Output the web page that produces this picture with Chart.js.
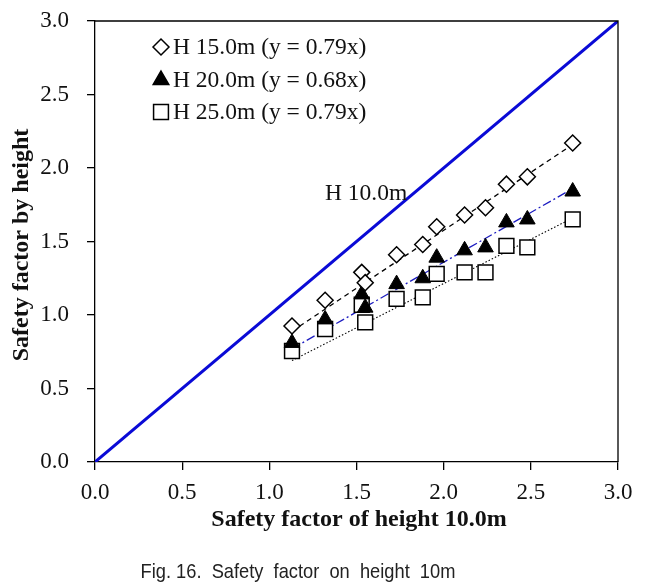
<!DOCTYPE html>
<html>
<head>
<meta charset="utf-8">
<script src="https://cdn.jsdelivr.net/npm/chart.js@4.4.1/dist/chart.umd.min.js"></script>
<style>
body { margin: 0; background: #fff; }
#grafico { display: block; }
</style>
</head>
<body>
<canvas id="grafico" width="649" height="587"></canvas>
<script>
// safety factor at 10.0m (x axis)
var sf_10m = [1.13, 1.32, 1.53, 1.55, 1.73, 1.88, 1.96, 2.12, 2.24, 2.36, 2.48, 2.74];
var sf_15m = [0.925, 1.10, 1.29, 1.22, 1.41, 1.48, 1.60, 1.68, 1.73, 1.89, 1.94, 2.17];
var sf_20m = [0.81, 0.97, 1.14, 1.05, 1.21, 1.25, 1.39, 1.44, 1.46, 1.63, 1.65, 1.84];
var sf_25m = [0.755, 0.905, 1.07, 0.95, 1.11, 1.12, 1.28, 1.29, 1.29, 1.47, 1.46, 1.65];

// trend lines (ends)
var trend_x = [1.13, 2.74];
var trend_15m = [0.89, 2.16];
var trend_20m = [0.77, 1.86];
var trend_25m = [0.69, 1.66];

var linea_10m_x = [0, 3];
var linea_10m_y = [0, 3];

var etiquetas = ['H 15.0m (y = 0.79x)', 'H 20.0m (y = 0.68x)', 'H 25.0m (y = 0.79x)'];
var ticks_eje = [0, 0.5, 1.0, 1.5, 2.0, 2.5, 3.0];

var SERIF = '"Liberation Serif", "Times New Roman", serif';
var AZUL = '#0a0ad6';

function puntos(xs, ys){
    var out = [];
    for (var i = 0; i < xs.length; i++){
        out.push({x: xs[i], y: ys[i]});
    }
    return out;
}

var estilos = [
    {pointStyle: 'rectRot', radius: 8, fill: '#ffffff'},
    {pointStyle: 'triangle', radius: 9, fill: '#000000'},
    {pointStyle: 'rect', radius: 10.5, fill: '#ffffff'}
];

var textos = {
    id: 'textos',
    afterDraw: function(chart){
        var ctx = chart.ctx;
        var a = chart.chartArea;
        ctx.save();
        // caja
        ctx.strokeStyle = '#000';
        ctx.lineWidth = 1.3;
        ctx.beginPath();
        ctx.moveTo(a.left, a.top);
        ctx.lineTo(a.right, a.top);
        ctx.lineTo(a.right, a.bottom);
        ctx.stroke();

        // leyenda
        ctx.font = '23.5px ' + SERIF;
        ctx.textBaseline = 'middle';
        ctx.textAlign = 'left';
        var filas = [47, 80, 112];
        for (var i = 0; i < etiquetas.length; i++){
            ctx.lineWidth = 1.5;
            ctx.strokeStyle = '#000';
            ctx.fillStyle = estilos[i].fill;
            Chart.helpers.drawPoint(ctx, {pointStyle: estilos[i].pointStyle, radius: estilos[i].radius, rotation: 0, borderWidth: 1.5}, 161, filas[i]);
            ctx.fillStyle = '#111';
            ctx.fillText(etiquetas[i], 173, filas[i] + 1);
        }

        ctx.fillText('H 10.0m', 325, 194);

        // titulos de ejes
        ctx.font = 'bold 24px ' + SERIF;
        ctx.textAlign = 'center';
        ctx.fillText('Safety factor of height 10.0m', 359, 520);
        ctx.save();
        ctx.translate(22, 245);
        ctx.rotate(-Math.PI / 2);
        ctx.fillText('Safety factor by height', 0, 0);
        ctx.restore();

        // pie de figura
        ctx.save();
        ctx.translate(298, 572);
        ctx.scale(0.87, 1);
        ctx.font = '21px "Liberation Sans", Arial, sans-serif';
        ctx.fillStyle = '#222';
        ctx.fillText('Fig. 16.  Safety  factor  on  height  10m', 0, 0);
        ctx.restore();
        ctx.restore();
    }
};

function eje(){
    return {
        type: 'linear',
        min: 0,
        max: 3,
        afterBuildTicks: function(s){
            s.ticks = ticks_eje.map(function(v){ return {value: v}; });
        },
        grid: {display: true, drawOnChartArea: false, drawTicks: true, tickLength: 8, color: '#000', lineWidth: 1.3},
        border: {display: true, color: '#000', width: 1.3},
        ticks: {
            color: '#111',
            font: {family: SERIF, size: 23},
            callback: function(v){ return Number(v).toFixed(1); }
        }
    };
}

var escala_x = eje();
escala_x.ticks.padding = 9;
escala_x.afterFit = function(s){ s.height = 125; };
var escala_y = eje();
escala_y.ticks.padding = 18;
escala_y.afterFit = function(s){
    s.width = 95;
    s.paddingTop = 14;
    s.paddingBottom = 14;
};

var chart = new Chart(document.getElementById('grafico'), {
    type: 'scatter',
    data: {
        datasets: [
            {
                label: 'H 10.0m', type: 'line', data: puntos(linea_10m_x, linea_10m_y),
                borderColor: AZUL, borderWidth: 3, pointRadius: 0, fill: false, order: 10
            },
            {
                label: 'trend 15', type: 'line', data: puntos(trend_x, trend_15m),
                borderColor: '#000', borderWidth: 1.3, borderDash: [5, 4], pointRadius: 0, fill: false, order: 9
            },
            {
                label: 'trend 20', type: 'line', data: puntos(trend_x, trend_20m),
                borderColor: '#1c1cc0', borderWidth: 1.3, borderDash: [9, 3, 2, 3], pointRadius: 0, fill: false, order: 8
            },
            {
                label: 'trend 25', type: 'line', data: puntos(trend_x, trend_25m),
                borderColor: '#000', borderWidth: 1.1, borderDash: [1.5, 2], pointRadius: 0, fill: false, order: 7
            },
            {
                label: etiquetas[2], data: puntos(sf_10m, sf_25m),
                pointStyle: 'rect', pointRadius: 10.5, backgroundColor: '#fff', borderColor: '#000', borderWidth: 1.5, order: 3
            },
            {
                label: etiquetas[1], data: puntos(sf_10m, sf_20m),
                pointStyle: 'triangle', pointRadius: 9, backgroundColor: '#000', borderColor: '#000', borderWidth: 1, order: 2
            },
            {
                label: etiquetas[0], data: puntos(sf_10m, sf_15m),
                pointStyle: 'rectRot', pointRadius: 8, backgroundColor: '#fff', borderColor: '#000', borderWidth: 1.5, order: 1
            }
        ]
    },
    options: {
        responsive: false,
        animation: false,
        layout: {padding: {left: 0, top: 21, right: 31, bottom: 0}},
        plugins: {legend: {display: false}, tooltip: {enabled: false}},
        scales: {x: escala_x, y: escala_y}
    },
    plugins: [textos]
});
</script>
</body>
</html>
